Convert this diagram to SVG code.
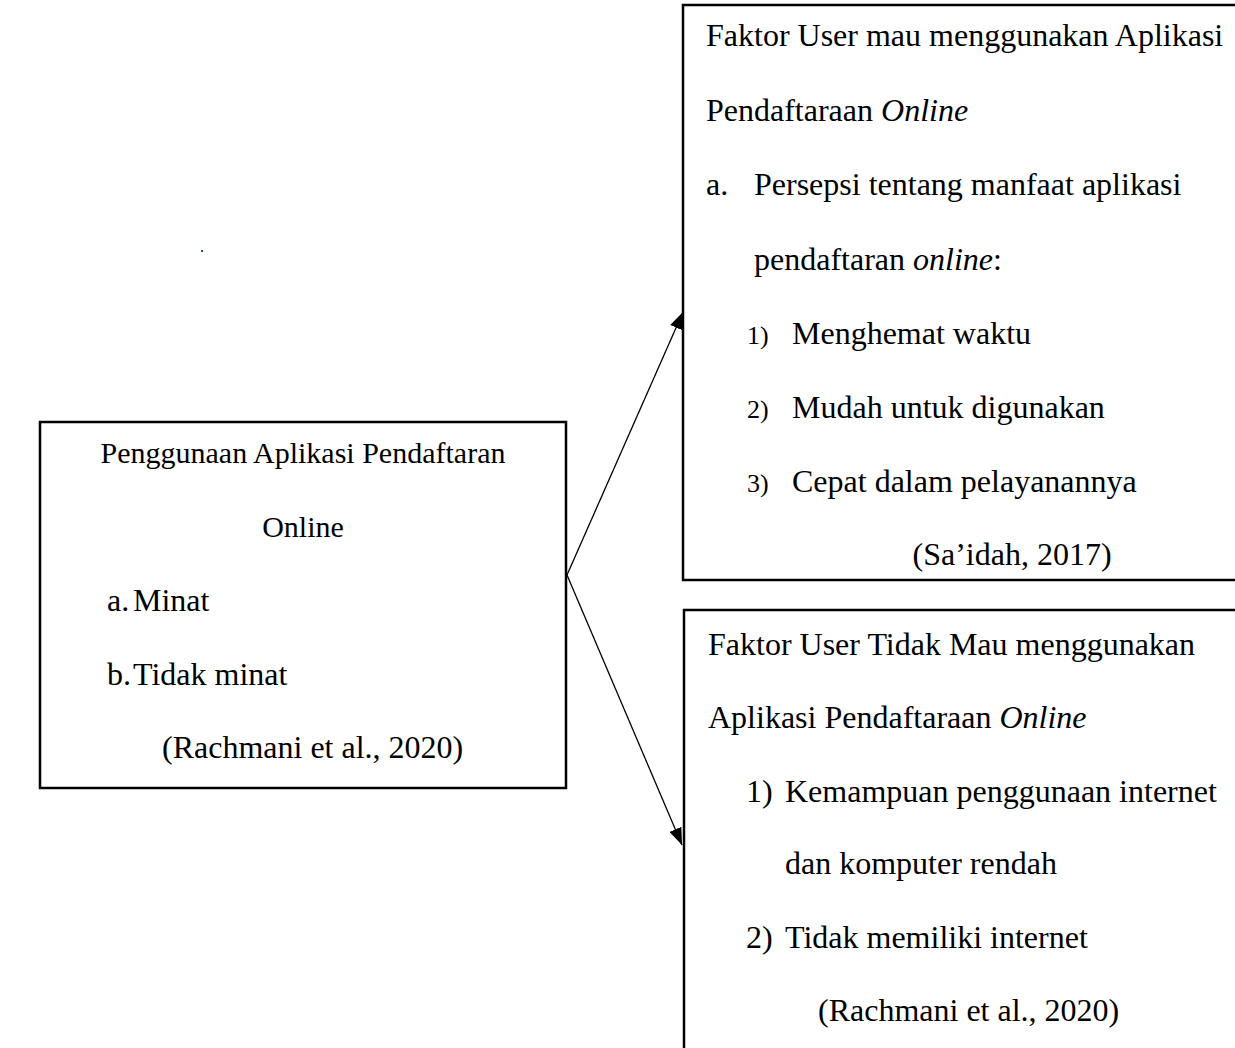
<svg xmlns="http://www.w3.org/2000/svg" width="1235" height="1048" viewBox="0 0 1235 1048">
<style>
.box{fill:#fff;stroke:#000;stroke-width:2.5}
.t{font-family:"Liberation Serif","Times New Roman",serif;font-size:32px;fill:#000}
.h{font-size:30px}
.n{font-size:26px}
.c{stroke:#000;stroke-width:1.3;fill:none}
</style>
<defs>
<marker id="ah" markerUnits="userSpaceOnUse" markerWidth="17" markerHeight="13" refX="17" refY="6.5" orient="auto">
<path d="M0,0 L17,6.5 L0,13 z" fill="#000"/>
</marker>
</defs>
<rect width="1235" height="1048" fill="#fff"/>
<text class="t" x="200" y="252" style="font-size:16px">.</text>
<g id="node-penggunaan">
<rect class="box" x="40" y="422" width="526" height="366"/>
<text class="t h" x="303" y="463" text-anchor="middle">Penggunaan Aplikasi Pendaftaran</text>
<text class="t h" x="303" y="537" text-anchor="middle">Online</text>
<text class="t" x="107" y="611">a.</text>
<text class="t" x="133" y="611">Minat</text>
<text class="t" x="107" y="685">b.</text>
<text class="t" x="133" y="685">Tidak minat</text>
<text class="t" x="162" y="758">(Rachmani et al., 2020)</text>
</g>
<g id="node-faktor-mau">
<rect class="box" x="683" y="5" width="560" height="575"/>
<text class="t" x="706" y="46">Faktor User mau menggunakan Aplikasi</text>
<text class="t" x="706" y="121">Pendaftaraan <tspan font-style="italic">Online</tspan></text>
<text class="t" x="706" y="195">a.</text>
<text class="t" x="754" y="195">Persepsi tentang manfaat aplikasi</text>
<text class="t" x="754" y="270">pendaftaran <tspan font-style="italic">online</tspan>:</text>
<text class="t n" x="747" y="344">1)</text>
<text class="t" x="792" y="344">Menghemat waktu</text>
<text class="t n" x="747" y="418">2)</text>
<text class="t" x="792" y="418">Mudah untuk digunakan</text>
<text class="t n" x="747" y="492">3)</text>
<text class="t" x="792" y="492">Cepat dalam pelayanannya</text>
<text class="t" x="1012" y="565" text-anchor="middle">(Sa’idah, 2017)</text>
</g>
<g id="node-faktor-tidak">
<rect class="box" x="684" y="610" width="560" height="450"/>
<text class="t" x="708" y="655">Faktor User Tidak Mau menggunakan</text>
<text class="t" x="708" y="728">Aplikasi Pendaftaraan <tspan font-style="italic">Online</tspan></text>
<text class="t" x="746" y="802">1)</text>
<text class="t" x="785" y="802">Kemampuan penggunaan internet</text>
<text class="t" x="785" y="874">dan komputer rendah</text>
<text class="t" x="746" y="948">2)</text>
<text class="t" x="785" y="948">Tidak memiliki internet</text>
<text class="t" x="818" y="1021">(Rachmani et al., 2020)</text>
</g>
<g id="connectors">
<line class="c" x1="567" y1="575" x2="683" y2="312" marker-end="url(#ah)"/>
<line class="c" x1="567" y1="575" x2="682" y2="845" marker-end="url(#ah)"/>
</g>
</svg>
